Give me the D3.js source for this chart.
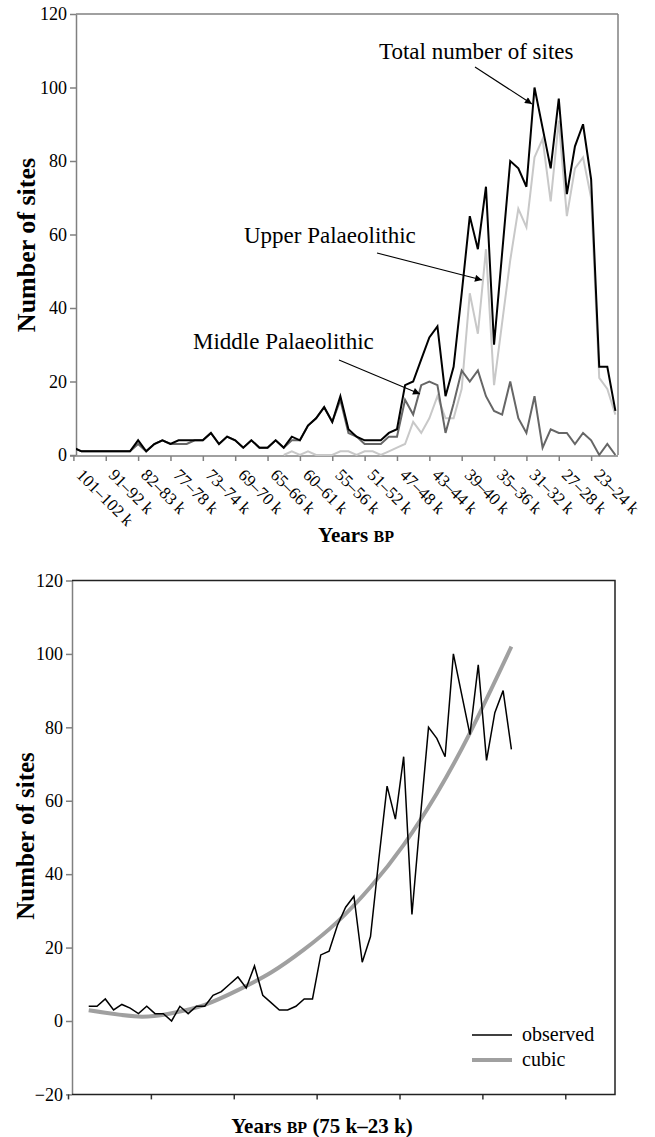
<!DOCTYPE html>
<html>
<head>
<meta charset="utf-8">
<script src="https://cdn.jsdelivr.net/npm/d3@7"></script>
<style>
  body { margin: 0; background: #fff; }
  text { font-family: "Liberation Serif", "Times New Roman", serif; fill: #000; }
</style>
</head>
<body>
<div id="chart"></div>
<script>
// data - top chart, one value per 1 k bin (68 bins, oldest first)
const totalSites = [2, 1, 1, 1, 1, 1, 1, 1, 4, 1,
  3, 4, 3, 4, 4, 4, 4, 6, 3, 5,
  4, 2, 4, 2, 2, 4, 2, 5, 4, 8,
  10, 13, 9, 16, 7, 5, 4, 4, 4, 6,
  7, 19, 20, 26, 32, 35, 16, 24, 44, 65,
  56, 73, 30, 55, 80, 78, 73, 100, 89, 78,
  97, 71, 84, 90, 75, 24, 24, 12]
const upperPal = [null, null, null, null, null, null, null, null, null, null,
  null, null, null, null, null, null, null, null, null, null,
  null, null, null, null, null, null, 0, 1, 0, 1,
  0, 0, 0, 1, 1, 0, 1, 1, 0, 1,
  2, 3, 9, 6, 10, 16, 10, 10, 18, 44,
  33, 56, 19, 36, 53, 67, 62, 81, 86, 69,
  91, 65, 78, 81, 70, 21, 18, 11]
const middlePal = [2, 1, 1, 1, 1, 1, 1, 1, 3, 1,
  3, 4, 3, 3, 3, 4, 4, 6, 3, 5,
  4, 2, 4, 2, 2, 4, 2, 4, 4, 8,
  10, 13, 9, 15, 6, 5, 3, 3, 3, 5,
  5, 15, 11, 19, 20, 19, 6, 14, 23, 20,
  23, 16, 12, 11, 20, 10, 6, 16, 2, 7,
  6, 6, 3, 6, 4, 0, 3, 0]
const topTickLabels = ['101–102 k', '91–92 k', '82–83 k', '77–78 k', '73–74 k', '69–70 k',
  '65–66 k', '60–61 k', '55–56 k', '51–52 k', '47–48 k', '43–44 k', '39–40 k',
  '35–36 k', '31–32 k', '27–28 k', '23–24 k']
const topYTicks = [0, 20, 40, 60, 80, 100, 120]

// data - bottom chart (75 k-23 k)
const observed = [4, 4, 6, 3, 4.5, 3.5, 2, 4, 2, 2,
  0, 4, 2, 4, 4, 7, 8, 10, 12, 9,
  15, 7, 5, 3, 3, 4, 6, 6, 18, 19,
  26, 31, 34, 16, 23, 44, 64, 55, 72, 29,
  55, 80, 77, 72, 100, 89, 78, 97, 71, 84,
  90, 74]
const cubicAt = [0, 6, 10, 14, 18, 22, 26, 30, 34, 38, 42, 46, 51]
const cubicVal = [2.9, 1.2, 2.1, 4.4, 8.4, 13.2, 19.5, 27, 36.5, 48, 62, 78.5, 102]
const bottomYTicks = [-20, 0, 20, 40, 60, 80, 100, 120]
const bottomXTicks = [-2.5, 7.5, 17.5, 27.5, 37.5, 47.5, 57.5]

// const
const width = 655
const height = 1137
const axisGrey = '#808080'

// svg
const svg = d3.select('#chart')
  .append('svg')
  .attr('width', width)
  .attr('height', height)

const defs = svg.append('defs')
defs.append('marker')
  .attr('id', 'arrow')
  .attr('viewBox', '0 0 10 10')
  .attr('refX', 10).attr('refY', 5)
  .attr('markerWidth', 9).attr('markerHeight', 7)
  .attr('markerUnits', 'userSpaceOnUse')
  .attr('orient', 'auto')
  .append('path').attr('d', 'M0,0 L10,5 L0,10 Z').attr('fill', '#000')

// ---------- top chart ----------
const topBox = { left: 76, right: 618, top: 14, bottom: 455 }

const xT = d3.scaleLinear()
  .domain([0, totalSites.length - 1])
  .range([73.4, 615.4])
const yT = d3.scaleLinear()
  .domain([0, 120])
  .range([topBox.bottom, topBox.top])

defs.append('clipPath').attr('id', 'clipTop')
  .append('rect')
  .attr('x', topBox.left).attr('y', 0)
  .attr('width', topBox.right - topBox.left).attr('height', topBox.bottom + 4)

// y axis
svg.append('g')
  .attr('transform', `translate(${topBox.left}, 0)`)
  .call(d3.axisLeft(yT).tickValues(topYTicks).tickSize(6).tickSizeOuter(0).tickPadding(3))
  .call(g => g.selectAll('line, path').attr('stroke', axisGrey).attr('stroke-width', 1.5))
  .call(g => g.selectAll('text').attr('font-size', 18).attr('font-family', 'Liberation Serif'))

// frame
svg.append('line')
  .attr('x1', topBox.left).attr('x2', topBox.right)
  .attr('y1', yT(120)).attr('y2', yT(120))
  .attr('stroke', axisGrey).attr('stroke-width', 1.5)
svg.append('line')
  .attr('x1', topBox.right).attr('x2', topBox.right)
  .attr('y1', yT(120)).attr('y2', yT(0))
  .attr('stroke', axisGrey).attr('stroke-width', 1.5)

// x axis
svg.append('g')
  .attr('transform', `translate(0, ${topBox.bottom + 1})`)
  .call(d3.axisBottom(xT)
    .tickValues(topTickLabels.map((d, k) => k * 4))
    .tickFormat('')
    .tickSize(5)
    .tickSizeOuter(0))
  .call(g => g.select('.domain').remove())
  .call(g => g.selectAll('line').attr('stroke', axisGrey).attr('stroke-width', 1.5))
svg.append('line')
  .attr('x1', topBox.left - 6).attr('x2', topBox.right)
  .attr('y1', topBox.bottom + 1).attr('y2', topBox.bottom + 1)
  .attr('stroke', axisGrey).attr('stroke-width', 1.5)

svg.append('g')
  .selectAll('text')
  .data(topTickLabels)
  .join('text')
  .attr('transform', (d, k) => `translate(${xT(k * 4) + 2}, 476) rotate(45)`)
  .attr('font-size', 17)
  .text(d => d)

// lines
const lineT = d3.line()
  .defined(d => d != null)
  .x((d, i) => xT(i))
  .y(d => yT(d))

const plotT = svg.append('g').attr('clip-path', 'url(#clipTop)')
plotT.append('path')
  .attr('d', lineT(upperPal))
  .attr('fill', 'none').attr('stroke', '#c8c8c8').attr('stroke-width', 2)
plotT.append('path')
  .attr('d', lineT(middlePal))
  .attr('fill', 'none').attr('stroke', '#666666').attr('stroke-width', 2)
plotT.append('path')
  .attr('d', lineT(totalSites))
  .attr('fill', 'none').attr('stroke', '#000').attr('stroke-width', 2)

// annotations
const notes = [
  { label: 'Total number of sites', tx: 379, ty: 59, from: [475, 67], to: [532, 104] },
  { label: 'Upper Palaeolithic', tx: 244, ty: 243, from: [377, 253], to: [482, 280] },
  { label: 'Middle Palaeolithic', tx: 193, ty: 349, from: [339, 360], to: [420, 394] }
]
notes.forEach(n => {
  svg.append('text')
    .attr('x', n.tx).attr('y', n.ty)
    .attr('font-size', 23)
    .text(n.label)
  svg.append('line')
    .attr('x1', n.from[0]).attr('y1', n.from[1])
    .attr('x2', n.to[0]).attr('y2', n.to[1])
    .attr('stroke', '#000').attr('stroke-width', 1.1)
    .attr('marker-end', 'url(#arrow)')
})

// axis titles
svg.append('text')
  .attr('transform', `translate(35, 245) rotate(-90)`)
  .attr('text-anchor', 'middle')
  .attr('font-size', 26).attr('font-weight', 'bold')
  .text('Number of sites')

const xtTop = svg.append('text')
  .attr('x', 356).attr('y', 542)
  .attr('text-anchor', 'middle')
  .attr('font-size', 21).attr('font-weight', 'bold')
xtTop.append('tspan').text('Years ')
xtTop.append('tspan').attr('font-size', 16).text('BP')

// ---------- bottom chart ----------
const botBox = { left: 72, right: 615, top: 580.5, bottom: 1094.4 }

const xB = d3.scaleLinear()
  .domain([-2.5, 63.5])
  .range([68, botBox.right])
const yB = d3.scaleLinear()
  .domain([-20, 120])
  .range([botBox.bottom, botBox.top])

// y axis
svg.append('g')
  .attr('transform', `translate(${botBox.left}, 0)`)
  .call(d3.axisLeft(yB).tickValues(bottomYTicks).tickSize(6).tickSizeOuter(0).tickPadding(3))
  .call(g => g.selectAll('line, path').attr('stroke', axisGrey).attr('stroke-width', 1.5))
  .call(g => g.selectAll('text').attr('font-size', 18).attr('font-family', 'Liberation Serif'))

// x axis
svg.append('g')
  .attr('transform', `translate(0, ${botBox.bottom})`)
  .call(d3.axisBottom(xB).tickValues(bottomXTicks).tickFormat('').tickSize(5).tickSizeOuter(0))
  .call(g => g.select('.domain').remove())
  .call(g => g.selectAll('line').attr('stroke', '#333').attr('stroke-width', 1.5))

// frame
svg.append('path')
  .attr('d', `M${botBox.left},${botBox.top} H${botBox.right} V${botBox.bottom} H${botBox.left}`)
  .attr('fill', 'none').attr('stroke', '#222').attr('stroke-width', 1.5)

// lines
const cubicPts = cubicAt.map((d, k) => [d, cubicVal[k]])
svg.append('path')
  .attr('d', d3.line().x(d => xB(d[0])).y(d => yB(d[1])).curve(d3.curveNatural)(cubicPts))
  .attr('fill', 'none').attr('stroke', '#a0a0a0').attr('stroke-width', 4)
svg.append('path')
  .attr('d', d3.line().x((d, i) => xB(i)).y(d => yB(d))(observed))
  .attr('fill', 'none').attr('stroke', '#000').attr('stroke-width', 1.5)

// legend
const legend = svg.append('g').attr('transform', 'translate(472, 1035)')
const legendItems = [
  { name: 'observed', color: '#000', w: 1.5 },
  { name: 'cubic', color: '#a0a0a0', w: 4 }
]
legendItems.forEach((d, k) => {
  legend.append('line')
    .attr('x1', 0).attr('x2', 40)
    .attr('y1', k * 25).attr('y2', k * 25)
    .attr('stroke', d.color).attr('stroke-width', d.w)
  legend.append('text')
    .attr('x', 50).attr('y', k * 25 + 6)
    .attr('font-size', 20)
    .text(d.name)
})

// axis titles
svg.append('text')
  .attr('transform', `translate(34, 836) rotate(-90)`)
  .attr('text-anchor', 'middle')
  .attr('font-size', 25).attr('font-weight', 'bold')
  .text('Number of sites')

const xtBot = svg.append('text')
  .attr('x', 322).attr('y', 1133)
  .attr('text-anchor', 'middle')
  .attr('font-size', 21).attr('font-weight', 'bold')
xtBot.append('tspan').text('Years ')
xtBot.append('tspan').attr('font-size', 16).text('BP')
xtBot.append('tspan').text(' (75 k–23 k)')
</script>
</body>
</html>
